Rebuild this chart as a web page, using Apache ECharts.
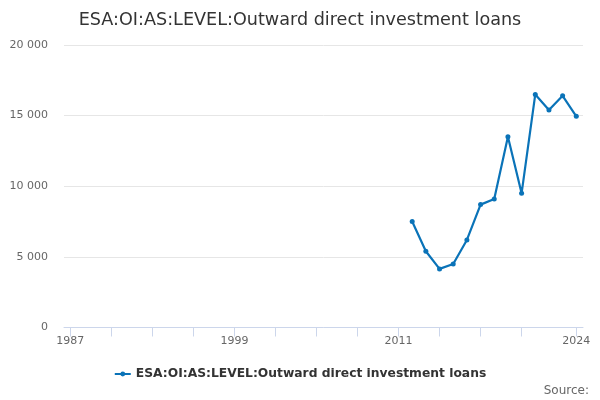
<!DOCTYPE html>
<html>
<head>
<meta charset="utf-8">
<script src="https://cdn.jsdelivr.net/npm/echarts@6/dist/echarts.min.js"></script>
<style>
html,body{margin:0;padding:0;background:#fff;}
#chart{width:600px;height:400px;}
</style>
</head>
<body>
<div id="chart"></div>
<script>
const seriesName = 'ESA:OI:AS:LEVEL:Outward direct investment loans';
const years = [2012, 2013, 2014, 2015, 2016, 2017, 2018, 2019, 2020, 2021, 2022, 2023, 2024];
const values = [7500, 5400, 4150, 4500, 6200, 8700, 9100, 13500, 9500, 16500, 15400, 16400, 14950];
const xTickYears = [1987, 1990, 1993, 1996, 1999, 2002, 2005, 2008, 2011, 2014, 2017, 2020, 2024];
const xLabelYears = [1987, 1999, 2011, 2024];
const yTicks = [0, 5000, 10000, 15000, 20000];

const color = '#0a73b8';
const fontFamily = '"DejaVu Sans", sans-serif';

const chart = echarts.init(document.getElementById('chart'));
chart.setOption({
  animation: false,
  backgroundColor: '#ffffff',
  title: {
    text: 'ESA:OI:AS:LEVEL:Outward direct investment loans',
    left: 'center',
    top: 6,
    textStyle: { fontFamily: fontFamily, fontSize: 17.6, fontWeight: 'normal', color: '#333333' }
  },
  graphic: [{
    type: 'text',
    right: 11,
    top: 385,
    style: { text: 'Source:', fontFamily: fontFamily, fontSize: 12, fill: '#666666' }
  }],
  legend: {
    bottom: 15,
    left: 'center',
    itemWidth: 16,
    itemHeight: 6,
    itemGap: 20,
    textStyle: { fontFamily: fontFamily, fontSize: 12.3, fontWeight: 'bold', color: '#333333' },
    data: [seriesName]
  },
  grid: { left: 64, right: 17, top: 45, bottom: 72.5, containLabel: false },
  xAxis: {
    type: 'value',
    min: 1986.54,
    max: 2024.49,
    splitLine: { show: false },
    axisLine: { show: true, lineStyle: { color: '#ccd6eb', width: 1 } },
    axisTick: { show: true, length: 9, lineStyle: { color: '#ccd6eb' }, customValues: xTickYears },
    axisLabel: {
      customValues: xLabelYears,
      fontFamily: fontFamily, fontSize: 11, color: '#666666', margin: 8,
      formatter: v => String(Math.round(v))
    }
  },
  yAxis: {
    type: 'value',
    min: 0,
    max: 20000,
    interval: 5000,
    axisLine: { show: false },
    axisTick: { show: false },
    splitLine: { show: true, lineStyle: { color: '#e6e6e6', width: 1 } },
    axisLabel: {
      fontFamily: fontFamily, fontSize: 11, color: '#666666', margin: 16,
      formatter: v => String(v).replace(/\B(?=(\d{3})+(?!\d))/g, ' ')
    }
  },
  series: [{
    name: seriesName,
    type: 'line',
    data: years.map((y, i) => [y, values[i]]),
    symbol: 'circle',
    symbolSize: 5,
    showSymbol: true,
    lineStyle: { color: color, width: 2.2 },
    itemStyle: { color: color }
  }]
});
</script>
</body>
</html>
